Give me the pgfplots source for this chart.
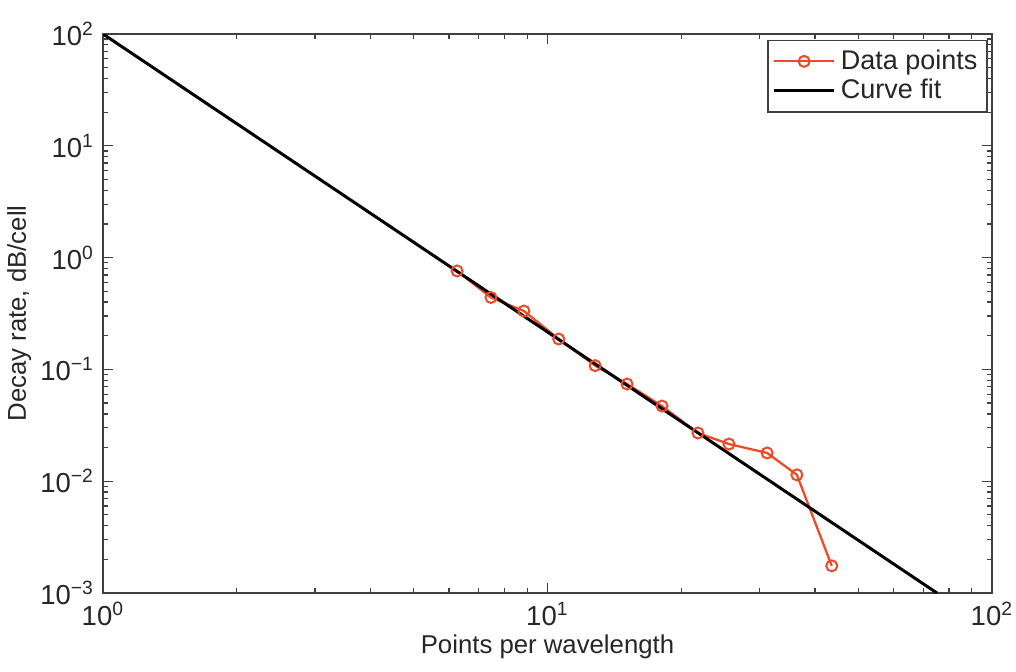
\documentclass[border=0pt]{standalone}
\usepackage{fontspec}
\setmainfont{Liberation Sans}
\usepackage{pgfplots}
\pgfplotsset{compat=1.18}
\definecolor{dataorange}{RGB}{242,72,38}
\begin{document}
\begin{tikzpicture}
\begin{axis}[
  name=ax,
  scale only axis,
  width=355.6pt, height=223.6pt,
  xmode=log, ymode=log,
  xmin=1, xmax=100, ymin=1e-3, ymax=1e2,
  tick align=inside,
  xtick={1,10,100},
  xticklabels={10\textsuperscript{0},10\textsuperscript{1},10\textsuperscript{2}},
  ytick={1e-3,1e-2,1e-1,1,10,100},
  yticklabels={10\textsuperscript{−3},10\textsuperscript{−2},10\textsuperscript{−1},10\textsuperscript{0},10\textsuperscript{1},10\textsuperscript{2}},
  tick label style={font=\fontsize{11pt}{12pt}\selectfont, color=black!85},
  label style={font=\fontsize{10.3pt}{12pt}\selectfont, color=black!85},
  xlabel={Points per wavelength},
  ylabel={Decay rate, dB/cell},
  xlabel style={yshift=3pt},
  ylabel style={yshift=-3.2pt},
  axis line style={black!75, line width=0.6pt},
  major tick length=4pt, minor tick length=2.2pt,
  every tick/.style={black!75, line width=0.5pt},
  legend style={at={(0.995,0.99)}, anchor=north east, draw=black!75, line width=0.5pt,
    font=\fontsize{10.8pt}{13pt}\selectfont, inner sep=1.8pt, row sep=-1.5pt,
    cells={anchor=west}, text=black!85,
    /tikz/every even column/.append style={column sep=2pt}},
  legend image code/.code={
    \draw[#1] (0cm,0cm) -- (0.85cm,0cm);
    \draw[#1, mark repeat=2, mark phase=2] plot coordinates {(0cm,0cm) (0.425cm,0cm) (0.85cm,0cm)};
  },
  legend cell align=left,
  clip=true,
]
\addplot[color=dataorange, line width=0.9pt, mark=o, mark size=2.2pt, mark options={line width=0.8pt}]
coordinates {
(6.26,0.76) (7.46,0.44) (8.85,0.333) (10.6,0.187) (12.8,0.108) (15.1,0.074)
(18.1,0.047) (21.8,0.027) (25.6,0.0215) (31.2,0.0179) (36.4,0.0114) (43.6,0.00175)
};
\addlegendentry{Data points}
\addplot[black, line width=1.2pt] coordinates {(1,100) (75.2,0.001)};
\addlegendentry{Curve fit}
\end{axis}
\pgfresetboundingbox
\path (ax.south west) ++(-41.2pt,-31.2pt) coordinate (bl);
\path (ax.north east) ++(9.6pt,13.6pt) coordinate (tr);
\path[use as bounding box] (bl) rectangle (tr);
\end{tikzpicture}
\end{document}
